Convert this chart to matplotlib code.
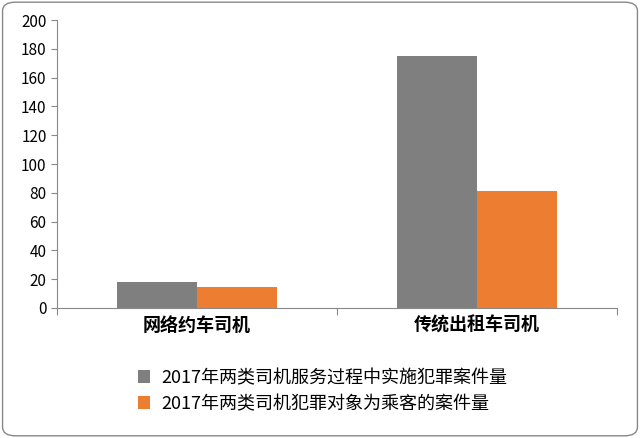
import matplotlib
matplotlib.use("Agg")
import matplotlib.pyplot as plt
from matplotlib.patches import FancyBboxPatch

plt.rcParams['font.family'] = ['Noto Sans CJK SC', 'DejaVu Sans']

categories = ["网络约车司机", "传统出租车司机"]
series_names = ["2017年两类司机服务过程中实施犯罪案件量", "2017年两类司机犯罪对象为乘客的案件量"]
crimes_total = [18, 175]
crimes_passenger = [14.5, 81]
colors = ["#7f7f7f", "#ed7d31"]

fig = plt.figure(figsize=(6.4, 4.38), dpi=100)
fig.patches.append(FancyBboxPatch((0.004, 0.005), 0.992, 0.99, boxstyle="round,pad=0,rounding_size=0.02",
                                  transform=fig.transFigure, fill=False, ec="#888888", lw=1))
ax = fig.add_axes([0.089, 0.297, 0.875, 0.657])
w = 0.286
x = range(len(categories))
ax.bar([i - w / 2 for i in x], crimes_total, w, color=colors[0], label=series_names[0])
ax.bar([i + w / 2 for i in x], crimes_passenger, w, color=colors[1], label=series_names[1])

ax.set_xlim(-0.5, 1.5)
ax.set_ylim(0, 200)
ax.set_yticks(range(0, 201, 20))
ax.tick_params(axis="y", labelsize=11, length=4, color="#888888")
ax.set_xticks([-0.5, 0.5, 1.5])
ax.set_xticklabels([])
ax.tick_params(axis="x", length=5, color="#888888")
for i, c in zip(x, categories):
    ax.text(i, -12, c, ha="center", va="center", fontsize=13, fontweight="bold")
for s in ["top", "right"]:
    ax.spines[s].set_visible(False)
for s in ["left", "bottom"]:
    ax.spines[s].set_color("#888888")

fig.legend(loc="upper left", bbox_to_anchor=(0.19, 0.195), frameon=False, fontsize=13,
           handlelength=0.7, handleheight=0.7, labelspacing=0.45, handletextpad=0.6)
fig.savefig("out.png", dpi=100)
